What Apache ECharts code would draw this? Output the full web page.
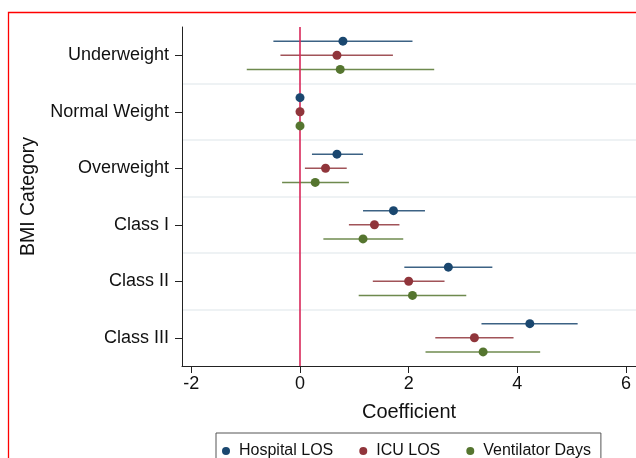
<!DOCTYPE html>
<html><head><meta charset="utf-8">
<script src="https://cdn.jsdelivr.net/npm/echarts@6/dist/echarts.min.js"></script>
<style>html,body{margin:0;padding:0;background:#fff}#c{width:636px;height:458px}</style>
</head><body><div id="c"></div>
<script>
const categories = ['Underweight', 'Normal Weight', 'Overweight', 'Class I', 'Class II', 'Class III'];
const seriesNames = ['Hospital LOS', 'ICU LOS', 'Ventilator Days'];
const hospEst = [0.79, 0, 0.68, 1.72, 2.73, 4.23];
const hospLo  = [-0.49, null, 0.22, 1.16, 1.92, 3.34];
const hospHi  = [2.07, null, 1.16, 2.30, 3.54, 5.11];
const icuEst  = [0.68, 0, 0.47, 1.37, 2.00, 3.21];
const icuLo   = [-0.36, null, 0.09, 0.90, 1.34, 2.49];
const icuHi   = [1.71, null, 0.86, 1.83, 2.66, 3.93];
const ventEst = [0.74, 0, 0.28, 1.16, 2.07, 3.37];
const ventLo  = [-0.98, null, -0.33, 0.43, 1.08, 2.31];
const ventHi  = [2.47, null, 0.90, 1.90, 3.06, 4.42];
const xTicks  = [-2, 0, 2, 4, 6];

const FONT = '"Liberation Sans", Arial, Helvetica, sans-serif';
const colors = ['#1a476f', '#90353b', '#55752f'];
const offsets = [-0.25, 0, 0.25];
const groups = [
  {est: hospEst, lo: hospLo, hi: hospHi},
  {est: icuEst, lo: icuLo, hi: icuHi},
  {est: ventEst, lo: ventLo, hi: ventHi}
];

const series = [];
groups.forEach((g, k) => {
  const ciData = [];
  g.lo.forEach((lo, i) => {
    if (lo !== null && g.hi[i] !== null) ciData.push([lo, g.hi[i], i + offsets[k]]);
  });
  series.push({
    name: seriesNames[k] + ' CI',
    type: 'custom',
    xAxisIndex: 0,
    yAxisIndex: 1,
    z: 1,
    silent: true,
    encode: {x: [0, 1], y: 2},
    data: ciData,
    renderItem: (params, api) => {
      const p1 = api.coord([api.value(0), api.value(2)]);
      const p2 = api.coord([api.value(1), api.value(2)]);
      return {
        type: 'line',
        shape: {x1: p1[0], y1: p1[1], x2: p2[0], y2: p2[1]},
        style: {stroke: colors[k], lineWidth: 1.5, opacity: 0.85}
      };
    }
  });
});

series.push({
  name: 'zero',
  type: 'custom',
  xAxisIndex: 0,
  yAxisIndex: 1,
  data: [],
  renderItem: () => null,
  markLine: {
    silent: true,
    symbol: 'none',
    label: {show: false},
    lineStyle: {color: '#d8275a', width: 1.6, type: 'solid'},
    emphasis: {disabled: true},
    data: [{xAxis: 0}]
  }
});

groups.forEach((g, k) => {
  series.push({
    name: seriesNames[k],
    type: 'scatter',
    xAxisIndex: 0,
    yAxisIndex: 1,
    z: 10,
    symbol: 'circle',
    symbolSize: 9,
    itemStyle: {color: colors[k], opacity: 1},
    data: g.est.map((v, i) => [v, i + offsets[k]])
  });
});

const chart = echarts.init(document.getElementById('c'), null, {renderer: 'canvas'});
chart.setOption({
  animation: false,
  backgroundColor: '#ffffff',
  textStyle: {fontFamily: FONT},
  grid: {left: 182, top: 27, bottom: 92, right: 0, containLabel: false},
  xAxis: {
    type: 'value',
    min: -2.172,
    max: 6.184,
    name: 'Coefficient',
    nameLocation: 'middle',
    nameGap: 36,
    nameTextStyle: {fontSize: 20, color: '#111', fontFamily: FONT},
    axisLine: {show: true, onZero: false, lineStyle: {color: '#222', width: 1}},
    axisTick: {show: true, length: 7, customValues: xTicks, lineStyle: {color: '#222', width: 1}},
    axisLabel: {fontSize: 18, color: '#111', margin: 9, fontFamily: FONT, customValues: xTicks},
    splitLine: {show: false}
  },
  yAxis: [{
    type: 'category',
    data: categories,
    inverse: true,
    boundaryGap: true,
    name: 'BMI Category',
    nameLocation: 'middle',
    nameGap: 143,
    nameTextStyle: {fontSize: 19.5, color: '#111', fontFamily: FONT},
    axisLine: {show: true, onZero: false, lineStyle: {color: '#222', width: 1}},
    axisTick: {show: true, alignWithLabel: true, length: 7, lineStyle: {color: '#222', width: 1}},
    axisLabel: {fontSize: 18, color: '#111', margin: 13, fontFamily: FONT},
    splitLine: {show: true, showMinLine: false, showMaxLine: false, lineStyle: {color: '#e8eef0', width: 1.5}}
  }, {
    type: 'value',
    min: -0.5,
    max: 5.5,
    inverse: true,
    show: false
  }],
  legend: {
    data: seriesNames,
    left: 216,
    top: 433,
    orient: 'horizontal',
    icon: 'circle',
    itemWidth: 16,
    itemHeight: 8,
    itemGap: 26,
    padding: [10, 10, 30, 6],
    borderColor: '#555',
    borderWidth: 1,
    borderRadius: 0,
    textStyle: {fontSize: 16, color: '#111', fontFamily: FONT}
  },
  graphic: [{
    type: 'rect',
    silent: true,
    z: 0,
    shape: {x: 8.5, y: 12.5, width: 700, height: 600},
    style: {fill: 'none', stroke: '#ff0000', lineWidth: 1.3}
  }],
  series: series
});
</script>
</body></html>
